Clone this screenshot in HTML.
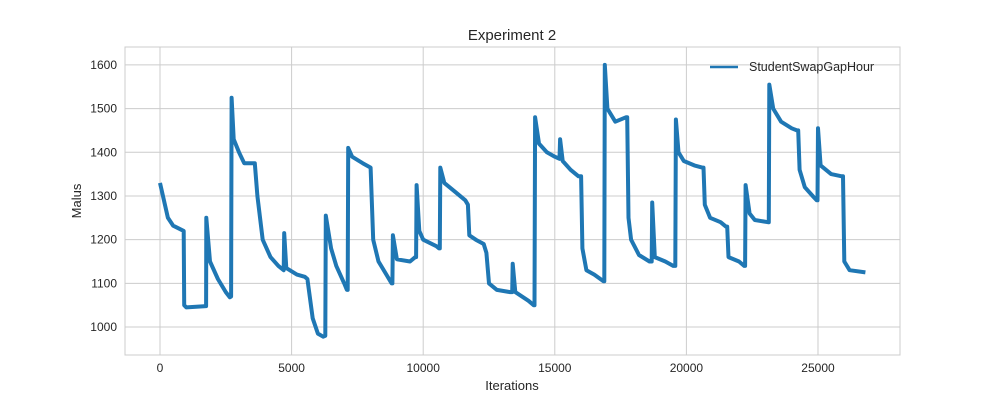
<!DOCTYPE html>
<html><head><meta charset="utf-8"><style>
body{margin:0;background:#fff;font-family:"Liberation Sans",sans-serif}
svg text{font-family:"Liberation Sans",sans-serif;fill:#262626}
</style></head><body>
<svg id="chart" width="1000" height="400" xmlns="http://www.w3.org/2000/svg">
<rect x="0" y="0" width="1000" height="400" fill="#fff"/>
<text x="512" y="40" text-anchor="middle" font-size="15">Experiment 2</text>
<g id="grid"></g>
<rect x="125" y="47" width="775" height="308" fill="none" stroke="#ccc" stroke-width="1"/>
<g id="ticks"></g>
<text x="512" y="390" text-anchor="middle" font-size="13">Iterations</text>
<text transform="translate(81,201) rotate(-90)" text-anchor="middle" font-size="13">Malus</text>
<g id="series"></g>
<g>
<line x1="710" y1="67" x2="738" y2="67" stroke="#1f77b4" stroke-width="2.5"/>
<text x="749" y="71" font-size="12.5">StudentSwapGapHour</text>
</g>
</svg>
<script>
const xTicks=[0,5000,10000,15000,20000,25000];
const yTicks=[1000,1100,1200,1300,1400,1500,1600];
const iters=[0,300,500,900,920,1000,1750,1760,1900,2200,2500,2650,2700,2720,2800,3000,3200,3600,3700,3900,4200,4500,4700,4720,4800,5200,5500,5600,5800,6000,6200,6280,6300,6500,6700,7000,7100,7130,7150,7300,7700,8000,8100,8300,8600,8800,8830,8850,9000,9500,9700,9730,9750,9850,10000,10500,10600,10630,10650,10800,11200,11600,11700,11750,12000,12300,12400,12500,12800,13300,13380,13400,13500,14000,14200,14230,14250,14400,14700,15000,15180,15200,15300,15600,15900,16000,16050,16200,16500,16850,16880,16900,17000,17300,17700,17750,17800,17900,18200,18600,18680,18700,18800,19200,19500,19580,19600,19700,19900,20300,20600,20650,20700,20900,21300,21500,21550,21600,22000,22200,22230,22250,22400,22600,23100,23130,23150,23300,23600,24000,24200,24250,24300,24500,24800,24950,24980,25000,25100,25500,25900,25950,26000,26200,26800];
const malus=[1330,1250,1232,1220,1050,1045,1048,1250,1150,1110,1080,1068,1070,1525,1430,1400,1375,1375,1300,1200,1160,1140,1130,1215,1135,1120,1115,1110,1020,985,978,980,1255,1180,1140,1100,1085,1085,1410,1390,1375,1365,1200,1150,1120,1100,1100,1210,1155,1150,1160,1160,1325,1220,1200,1185,1180,1180,1365,1330,1310,1290,1280,1210,1200,1190,1170,1100,1085,1080,1080,1145,1080,1060,1050,1050,1480,1420,1400,1390,1385,1430,1380,1360,1345,1345,1180,1130,1120,1105,1105,1600,1500,1470,1480,1480,1250,1200,1165,1150,1150,1285,1160,1150,1140,1140,1475,1400,1380,1370,1365,1365,1280,1250,1240,1230,1230,1160,1150,1140,1140,1325,1260,1245,1240,1240,1555,1500,1470,1455,1450,1450,1360,1320,1300,1290,1290,1455,1370,1350,1345,1345,1150,1130,1125];
const NS="http://www.w3.org/2000/svg";
const L=125,R=900,T=47,B=355,xMin=-1330,xMax=28116,yMin=936,yMax=1641;
const sx=v=>L+(v-xMin)/(xMax-xMin)*(R-L);
const sy=v=>B-(v-yMin)/(yMax-yMin)*(B-T);
const grid=document.getElementById('grid'),ticks=document.getElementById('ticks'),series=document.getElementById('series');
xTicks.forEach(t=>{
 const l=document.createElementNS(NS,'line');
 
 
 l.setAttribute('x1',sx(t));l.setAttribute('x2',sx(t));l.setAttribute('y1',T);l.setAttribute('y2',B);l.setAttribute('stroke','#ccc');
 grid.appendChild(l);
 const tx=document.createElementNS(NS,'text');
 
 
 tx.setAttribute('x',sx(t));tx.setAttribute('y',372);tx.setAttribute('text-anchor','middle');tx.setAttribute('font-size','12');
 tx.textContent=t;ticks.appendChild(tx);
});
yTicks.forEach(t=>{
 const l=document.createElementNS(NS,'line');
 
 
 l.setAttribute('x1',L);l.setAttribute('x2',R);l.setAttribute('y1',sy(t));l.setAttribute('y2',sy(t));l.setAttribute('stroke','#ccc');
 grid.appendChild(l);
 const tx=document.createElementNS(NS,'text');
 
 
 tx.setAttribute('x',117);tx.setAttribute('y',sy(t)+4);tx.setAttribute('text-anchor','end');tx.setAttribute('font-size','12');
 tx.textContent=t;ticks.appendChild(tx);
});
const p=document.createElementNS(NS,'polyline');


p.setAttribute('points',iters.map((v,i)=>sx(v).toFixed(1)+','+sy(malus[i]).toFixed(1)).join(' '));
p.setAttribute('fill','none');p.setAttribute('stroke','#1f77b4');p.setAttribute('stroke-width','4');p.setAttribute('stroke-linejoin','round');
series.appendChild(p);
</script>
</body></html>
